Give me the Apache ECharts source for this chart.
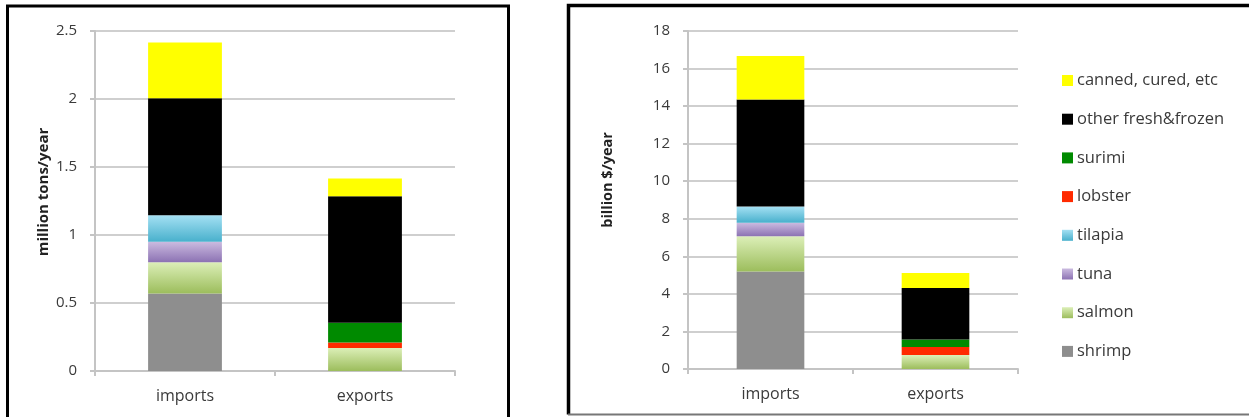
<!DOCTYPE html>
<html>
<head>
<meta charset="utf-8">
<script src="https://cdn.jsdelivr.net/npm/echarts@6/dist/echarts.min.js"></script>
<style>
  html, body { margin: 0; padding: 0; background: #ffffff; }
  #chart { width: 1249px; height: 417px; }
</style>
</head>
<body>
<div id="chart"></div>
<script>
// Seafood trade: volume (million tons/year) and value (billion $/year)
var categories = ['imports', 'exports'];
var seriesNames = ['shrimp', 'salmon', 'tuna', 'tilapia', 'lobster', 'surimi',
                   'other fresh&frozen', 'canned, cured, etc'];

// million tons/year, [imports, exports]
var shrimpTons  = [0.57, 0];
var salmonTons  = [0.23, 0.17];
var tunaTons    = [0.15, 0];
var tilapiaTons = [0.195, 0];
var lobsterTons = [0, 0.04];
var surimiTons  = [0, 0.145];
var otherTons   = [0.86, 0.93];
var cannedTons  = [0.41, 0.13];

// billion $/year, [imports, exports]
var shrimpValue  = [5.19, 0];
var salmonValue  = [1.88, 0.74];
var tunaValue    = [0.72, 0];
var tilapiaValue = [0.86, 0];
var lobsterValue = [0, 0.43];
var surimiValue  = [0, 0.40];
var otherValue   = [5.70, 2.74];
var cannedValue  = [2.32, 0.80];

var tonsTicks  = { min: 0, max: 2.5, interval: 0.5 };
var valueTicks = { min: 0, max: 18, interval: 2 };

function vgrad(top, bottom) {
  return { type: 'linear', x: 0, y: 0, x2: 0, y2: 1,
           colorStops: [{ offset: 0, color: top }, { offset: 1, color: bottom }] };
}

var colors = {
  'shrimp': '#8e8e8e',
  'salmon': vgrad('#dcefb8', '#9cbd5c'),
  'tuna': vgrad('#cbbbe0', '#8c72b3'),
  'tilapia': vgrad('#a4e0f3', '#48b0cc'),
  'lobster': '#ff2a00',
  'surimi': '#008a00',
  'other fresh&frozen': '#000000',
  'canned, cured, etc': '#ffff00'
};

var tonsData = [shrimpTons, salmonTons, tunaTons, tilapiaTons, lobsterTons, surimiTons, otherTons, cannedTons];
var valueData = [shrimpValue, salmonValue, tunaValue, tilapiaValue, lobsterValue, surimiValue, otherValue, cannedValue];

var textColor = '#3a3a3a';
var gridColor = '#cfcfcf';
var axisColor = '#c4c4c4';
var fontFamily = '"Open Sans", "Liberation Sans", sans-serif';

function makeSeries(dataSets, idx, stackName) {
  return seriesNames.map(function (name, i) {
    return {
      name: name,
      type: 'bar',
      stack: stackName,
      xAxisIndex: idx,
      yAxisIndex: idx,
      barCategoryGap: '59%',
      data: dataSets[i].map(function (v) { return v === 0 ? '-' : v; }),
      itemStyle: { color: colors[name] },
      emphasis: { disabled: true }
    };
  });
}

function xAxisCfg(gridIndex) {
  return {
    type: 'category',
    gridIndex: gridIndex,
    data: categories,
    axisLine: { lineStyle: { color: axisColor, width: 2 } },
    axisTick: { show: true, length: 5, lineStyle: { color: axisColor, width: 2 } },
    axisLabel: { color: textColor, fontSize: 16, fontFamily: fontFamily, margin: 17 }
  };
}

function yAxisCfg(gridIndex, ticks) {
  return {
    type: 'value',
    gridIndex: gridIndex,
    min: ticks.min,
    max: ticks.max,
    interval: ticks.interval,
    axisLine: { show: true, lineStyle: { color: axisColor, width: 2 } },
    axisTick: { show: true, length: 5, lineStyle: { color: axisColor, width: 2 } },
    axisLabel: { color: textColor, fontSize: 15, fontFamily: fontFamily, margin: 18 },
    splitLine: { lineStyle: { color: gridColor, width: 2 } }
  };
}

var chart = echarts.init(document.getElementById('chart'), null, { renderer: 'canvas' });

chart.setOption({
  animation: false,
  backgroundColor: '#ffffff',
  grid: [
    { left: 95, top: 31, width: 360, height: 340 },
    { left: 688, top: 31, width: 330, height: 338 }
  ],
  xAxis: [xAxisCfg(0), xAxisCfg(1)],
  yAxis: [yAxisCfg(0, tonsTicks), yAxisCfg(1, valueTicks)],
  legend: {
    orient: 'vertical',
    left: 1062,
    top: 72,
    padding: 0,
    itemWidth: 11,
    itemHeight: 11,
    itemGap: 21.7,
    icon: 'rect',
    data: seriesNames.slice().reverse(),
    textStyle: { color: textColor, fontSize: 16.5, fontFamily: fontFamily, padding: [0, 0, 0, -1] },
    selectedMode: false
  },
  series: makeSeries(tonsData, 0, 'tons').concat(makeSeries(valueData, 1, 'value')),
  graphic: [
    // panel frames
    { type: 'polyline', shape: { points: [[7.5, 420], [7.5, 6], [508.5, 6], [508.5, 420]] },
      style: { stroke: '#000000', lineWidth: 3, fill: null }, silent: true },
    { type: 'polyline', shape: { points: [[1252, 5.5], [568.5, 5.5], [568.5, 414.5]] },
      style: { stroke: '#000000', lineWidth: 3.5, fill: null }, silent: true },
    { type: 'line', shape: { x1: 568, y1: 414.5, x2: 1252, y2: 414.5 },
      style: { stroke: '#777777', lineWidth: 2 }, silent: true },
    // axis titles
    { type: 'text', x: 44, y: 192, rotation: Math.PI / 2,
      style: { text: 'million tons/year', fill: '#222222', fontSize: 15, fontWeight: 'bold',
               fontFamily: fontFamily, align: 'center', verticalAlign: 'middle' }, silent: true },
    { type: 'text', x: 607.5, y: 180, rotation: Math.PI / 2,
      style: { text: 'billion $/year', fill: '#222222', fontSize: 14.5, fontWeight: 'bold',
               fontFamily: fontFamily, align: 'center', verticalAlign: 'middle' }, silent: true }
  ]
});
</script>
</body>
</html>
